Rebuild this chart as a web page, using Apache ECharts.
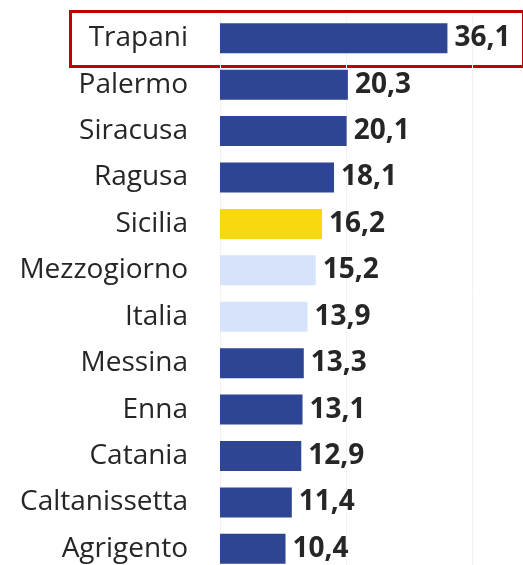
<!DOCTYPE html>
<html>
<head>
<meta charset="UTF-8">
<script src="https://cdn.jsdelivr.net/npm/echarts@6/dist/echarts.min.js"></script>
<style>
html,body{margin:0;padding:0;background:#fff;}
#main{width:523px;height:565px;}
</style>
</head>
<body>
<div id="main"></div>
<script>
// categories top to bottom
var places = ['Trapani','Palermo','Siracusa','Ragusa','Sicilia','Mezzogiorno','Italia','Messina','Enna','Catania','Caltanissetta','Agrigento'];
var values = [36.1, 20.3, 20.1, 18.1, 16.2, 15.2, 13.9, 13.3, 13.1, 12.9, 11.4, 10.4];
var kinds = ['prov','prov','prov','prov','sicilia','ref','ref','prov','prov','prov','prov','prov'];
var kindColor = {prov:'#2E4593', sicilia:'#F8D90F', ref:'#D7E3FB'};

var chart = echarts.init(document.getElementById('main'));

var barData = values.map(function(v, i){
  return {value: v, itemStyle: {color: kindColor[kinds[i]]}};
});

chart.setOption({
  animation: false,
  grid: {left: 220, width: 252, top: 15, height: 557, outerBoundsMode: 'none', containLabel: false},
  xAxis: {
    type: 'value', min: 0, max: 40, interval: 20,
    axisLabel: {show: false}, axisLine: {show: false}, axisTick: {show: false},
    splitLine: {show: true, lineStyle: {color: '#f2f2f2', width: 1}}
  },
  yAxis: {
    type: 'category', data: places, inverse: true,
    axisLine: {show: false}, axisTick: {show: false},
    axisLabel: {margin: 32, color: '#262626', fontSize: 28, fontFamily: 'Open Sans'}
  },
  series: [{
    type: 'bar', data: barData, barWidth: 30,
    label: {
      show: true, position: 'right', distance: 7,
      color: '#262626', fontSize: 28, fontWeight: 'bold', fontFamily: 'Open Sans',
      formatter: function(p){ return p.value.toFixed(1).replace('.', ','); }
    }
  }],
  graphic: [{
    type: 'rect', left: 68, top: 9,
    shape: {width: 453, height: 55},
    style: {fill: 'none', stroke: '#C00000', lineWidth: 3}
  }]
});
</script>
</body>
</html>
